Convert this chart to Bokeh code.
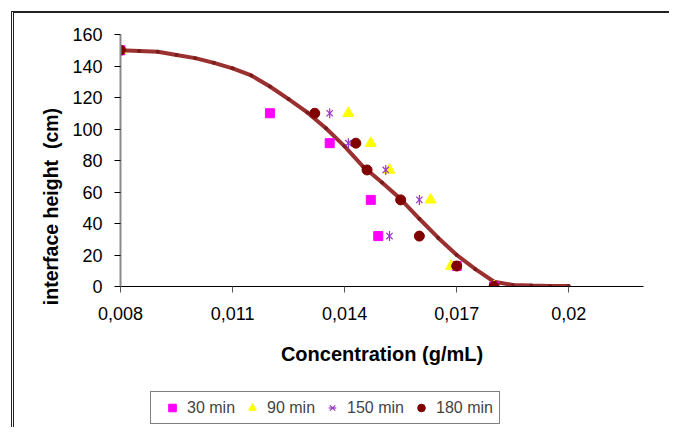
from bokeh.plotting import figure
from bokeh.layouts import column
from bokeh.models import Range1d, FixedTicker, CustomJSTickFormatter, Legend, LegendItem
from bokeh.embed import file_html
from bokeh.resources import INLINE
import math

# ---- data ----
curve_x = [0.008, 0.0085, 0.009, 0.0095, 0.010, 0.0105, 0.011, 0.0115, 0.012, 0.0125,
           0.013, 0.0135, 0.014, 0.0145, 0.015, 0.0155, 0.016, 0.0165, 0.017, 0.0175,
           0.018, 0.0185, 0.019, 0.0195, 0.020]
curve_y = [150, 149.5, 149, 147, 145, 142, 138.5, 134, 127, 119,
           110.5, 100.5, 89, 76, 66, 55.5, 43, 31, 20, 11,
           3, 1, 0.6, 0.3, 0.3]

min30_x = [0.008, 0.012, 0.0136, 0.0147, 0.0149, 0.017, 0.018]
min30_y = [150, 110, 91, 55, 32, 13, 0]

min90_x = [0.008, 0.0141, 0.0147, 0.0152, 0.0163, 0.01685, 0.018]
min90_y = [150, 110, 91, 74, 55, 13, 0]

min150_x = [0.008, 0.0136, 0.0141, 0.0151, 0.0160, 0.0152, 0.018]
min150_y = [150, 110, 91, 74, 55, 32, 0]

min180_x = [0.008, 0.0132, 0.0143, 0.0146, 0.0155, 0.0160, 0.0170, 0.018]
min180_y = [150, 110, 91, 74, 55, 32, 13, 0]

series_labels = ["30 min", "90 min", "150 min", "180 min"]
x_ticks = [0.008, 0.011, 0.014, 0.017, 0.020]
y_ticks = [0, 20, 40, 60, 80, 100, 120, 140, 160]
x_title = "Concentration (g/mL)"
# trailing no-break spaces push the (bottom-to-top) title lower, as in the reference
y_title = "interface height \u00a0(cm)" + "\u00a0" * 17

FONT = "Liberation Sans"

# colours / markers per series
C30, C90, C150, C180 = "#ff00ff", "#ffff00", "#9933cc", "#800000"


def add_series(fig):
    r30 = fig.scatter(min30_x, min30_y, marker="square", size=9, fill_color=C30, line_color=C30)
    r90 = fig.scatter(min90_x, min90_y, marker="triangle", size=11, fill_color=C90, line_color=C90)
    r150a = fig.scatter(min150_x, min150_y, marker="x", size=9, fill_color=None, line_color=C150, line_width=1.2)
    r150b = fig.scatter(min150_x, min150_y, marker="dash", angle=math.pi / 2, size=10, line_color=C150, line_width=1.2)
    r180 = fig.scatter(min180_x, min180_y, marker="circle", size=10, fill_color=C180, line_color=C180)
    return r30, r90, (r150a, r150b), r180


p = figure(width=655, height=362, output_backend="svg", toolbar_location=None,
           x_range=Range1d(0.008, 0.022), y_range=Range1d(0, 160),
           min_border_left=106, min_border_right=26, min_border_top=21, min_border_bottom=89)
p.outline_line_color = None
p.xgrid.visible = False
p.ygrid.visible = False
p.background_fill_color = "white"
p.border_fill_color = "white"

# axes
p.xaxis.ticker = FixedTicker(ticks=x_ticks)
p.xaxis.formatter = CustomJSTickFormatter(code="""
    const s = (Math.round(tick * 1000) / 1000).toString();
    return s.replace('.', ',');
""")
p.yaxis.ticker = FixedTicker(ticks=y_ticks)
for ax in (p.xaxis, p.yaxis):
    ax.major_label_text_font = FONT
    ax.major_label_text_font_size = "18px"
    ax.major_label_text_color = "black"
    ax.axis_label_text_font = FONT
    ax.axis_label_text_font_style = "bold"
    ax.axis_label_text_color = "black"
    ax.minor_tick_line_color = None
    ax.major_tick_in = 0
    ax.major_tick_out = 6
p.xaxis.axis_label_text_font_size = "20px"
p.yaxis.axis_label_text_font_size = "19.5px"
p.xaxis.axis_label = x_title
p.yaxis.axis_label = y_title
p.xaxis.axis_line_color = "black"
p.xaxis.major_tick_line_color = "#555555"
p.yaxis.axis_line_color = "#8a8a8a"
p.yaxis.axis_line_width = 2
p.yaxis.major_tick_line_color = "black"
p.xaxis.major_label_standoff = 14
p.xaxis.axis_label_standoff = 20
p.yaxis.major_label_standoff = 12
p.yaxis.axis_label_standoff = 7

# fitted curve
p.line(curve_x, curve_y, line_color="#9a3030", line_width=4)
p.scatter(curve_x, curve_y, marker="circle", size=4, fill_color="#7a1c1c", line_color=None)

# measured series
add_series(p)

# legend strip: a small figure whose view range shows none of the data,
# so only the legend (with its glyphs) is visible
lg = figure(width=655, height=52, output_backend="svg", toolbar_location=None,
            x_axis_type=None, y_axis_type=None,
            x_range=Range1d(1.0, 2.0), y_range=Range1d(1000.0, 1001.0),
            min_border_left=0, min_border_right=0, min_border_top=0, min_border_bottom=0)
lg.outline_line_color = None
lg.xgrid.visible = False
lg.ygrid.visible = False
l30, l90, l150, l180 = add_series(lg)

legend = Legend(items=[
    LegendItem(label=series_labels[0], renderers=[l30]),
    LegendItem(label=series_labels[1], renderers=[l90]),
    LegendItem(label=series_labels[2], renderers=list(l150)),
    LegendItem(label=series_labels[3], renderers=[l180]),
], orientation="horizontal", location=(30, 3))
legend.label_text_font = FONT
legend.label_text_font_size = "16px"
legend.label_standoff = -6
legend.label_height = 19
legend.glyph_width = 30
legend.glyph_height = 19
legend.spacing = 2
legend.padding = 6
legend.margin = 0
legend.border_line_color = "black"
legend.border_line_width = 1
legend.background_fill_color = "white"
legend.background_fill_alpha = 1
lg.add_layout(legend, "center")

page = column(p, lg, spacing=0)
page.styles = {"margin-left": "11px", "margin-top": "11px",
               "border-left": "3px double #222", "border-top": "2px solid #222"}

open("out.html", "w").write(file_html(page, INLINE))
